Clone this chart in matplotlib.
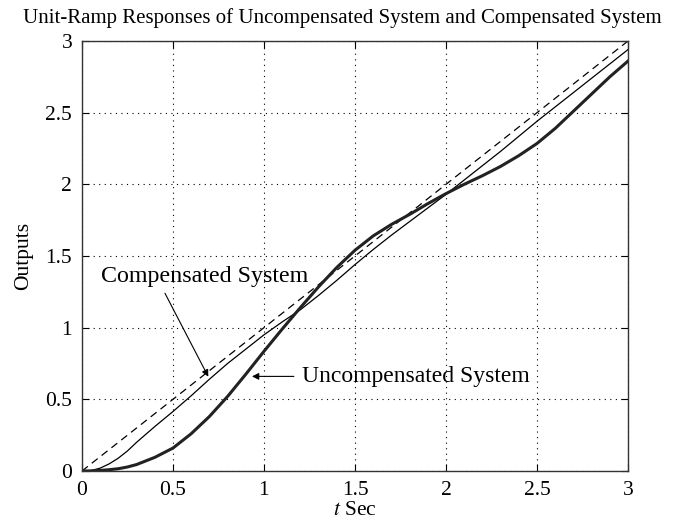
import numpy as np
import matplotlib
matplotlib.use("Agg")
import matplotlib.pyplot as plt

plt.rcParams['font.family'] = ['Liberation Serif', 'DejaVu Serif']
plt.rcParams['mathtext.fontset'] = 'stix'

# Tempo (s)
t = [0.0, 0.05, 0.1, 0.15, 0.2, 0.25, 0.3, 0.4, 0.5, 0.6, 0.7, 0.8, 0.9,
     1.0, 1.1, 1.2, 1.3, 1.4, 1.5, 1.6, 1.7, 1.8, 1.9, 2.0, 2.1, 2.2,
     2.3, 2.4, 2.5, 2.6, 2.7, 2.8, 2.9, 3.0]

# Sistema compensado (linha fina)
y_comp = [0.0, 0.003, 0.02, 0.05, 0.09, 0.14, 0.2, 0.31, 0.415, 0.525, 0.64,
          0.75, 0.85, 0.95, 1.04, 1.125, 1.225, 1.33, 1.44, 1.545, 1.645, 1.74,
          1.835, 1.93, 2.03, 2.13, 2.23, 2.335, 2.44, 2.54, 2.64, 2.74, 2.84,
          2.94]

# Sistema não compensado (linha grossa)
y_uncomp = [0.0, 0.001, 0.004, 0.009, 0.016, 0.028, 0.045, 0.095, 0.16,
            0.26, 0.38, 0.52, 0.675, 0.835, 0.99, 1.14, 1.285, 1.42, 1.54,
            1.64, 1.72, 1.79, 1.865, 1.935, 2.0, 2.06, 2.125, 2.2, 2.285,
            2.39, 2.51, 2.63, 2.75, 2.86]

# Entrada rampa unitária
t_ramp = [0, 3]
y_ramp = [0, 3]

fig = plt.figure(figsize=(6.83, 5.22), dpi=100)
ax = fig.add_axes([0.12, 0.0977, 0.7995, 0.8238])

ax.plot(t_ramp, y_ramp, '--', color='black', linewidth=0.9, dashes=(6, 4))
ax.plot(t, y_comp, '-', color='black', linewidth=0.9)
ax.plot(t, y_uncomp, '-', color='#222222', linewidth=2.2)

ax.set_xlim(0, 3)
ax.set_ylim(0, 3)
ax.set_xticks([0, 0.5, 1, 1.5, 2, 2.5, 3])
ax.set_yticks([0, 0.5, 1, 1.5, 2, 2.5, 3])
ax.set_xticklabels(['0', '0.5', '1', '1.5', '2', '2.5', '3'])
ax.set_yticklabels(['0', '0.5', '1', '1.5', '2', '2.5', '3'])
ax.tick_params(direction='in', top=True, right=True, labelsize=15.5,
               length=5, width=0.8, pad=7)
ax.grid(True, linestyle=(0, (1, 4)), color='black', linewidth=0.8)
for s in ax.spines.values():
    s.set_linewidth(1.0)
    s.set_color('#333333')

ax.set_xlabel('$t$ Sec', fontsize=15.5, labelpad=1)
ax.set_ylabel('Outputs', fontsize=15.5, labelpad=9)
ax.set_title('Unit-Ramp Responses of Uncompensated System and Compensated System',
             fontsize=15.0, pad=13, x=0.477)

# Anotações
ax.text(0.676, 1.354, 'Compensated System', ha='center', va='center',
        fontsize=17.3)
ax.annotate('', xy=(0.694, 0.658), xytext=(0.456, 1.24),
            arrowprops=dict(arrowstyle='-|>', color='black', lw=0.8,
                            shrinkA=0, shrinkB=0, mutation_scale=10))
ax.annotate('Uncompensated System', xy=(0.934, 0.66), xytext=(1.21, 0.66),
            ha='left', va='center', fontsize=17.0,
            arrowprops=dict(arrowstyle='-|>', color='black', lw=0.8,
                            shrinkA=4, shrinkB=0, mutation_scale=10))

fig.savefig('out.png', dpi=100)
